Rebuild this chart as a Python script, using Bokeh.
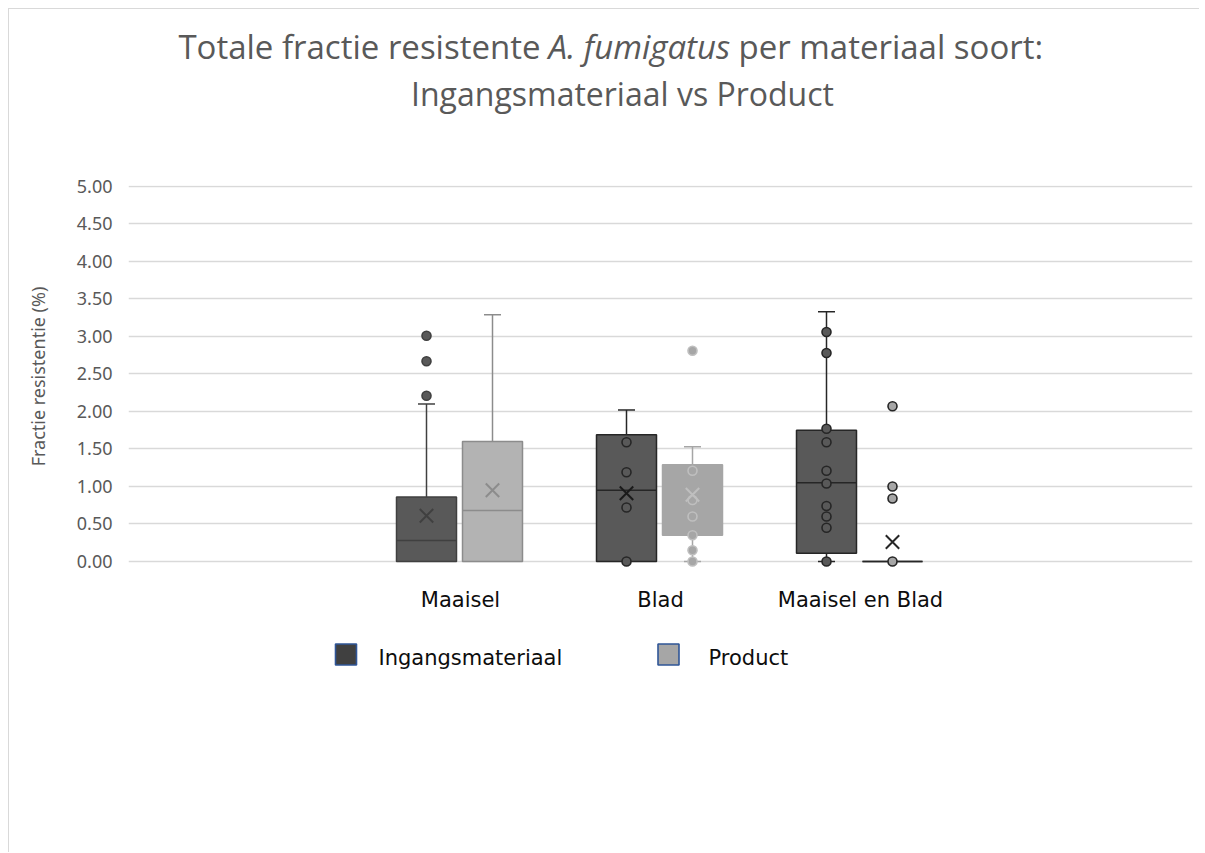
from bokeh.plotting import figure
from bokeh.layouts import column
from bokeh.models import Range1d, FixedTicker, NumeralTickFormatter, ColumnDataSource
from bokeh.core.properties import value
from bokeh.embed import file_html
from bokeh.resources import INLINE

# ---------------- data ----------------
categories = ["Maaisel", "Blad", "Maaisel en Blad"]
series = ["Ingangsmateriaal", "Product"]

ing_q1 = [0.00, 0.00, 0.11]
ing_med = [0.28, 0.95, 1.05]
ing_q3 = [0.86, 1.69, 1.75]
ing_lo = [0.00, 0.00, 0.00]
ing_hi = [2.10, 2.02, 3.33]
ing_mean = [0.61, 0.91, float("nan")]
ing_points = [
    [2.21, 2.67, 3.01],
    [1.59, 1.19, 0.72, 0.00],
    [3.06, 2.78, 1.77, 1.59, 1.21, 1.04, 0.74, 0.60, 0.45, 0.00],
]

prod_q1 = [0.00, 0.35, 0.00]
prod_med = [0.68, 0.66, 0.00]
prod_q3 = [1.60, 1.29, 0.00]
prod_lo = [0.00, 0.00, 0.00]
prod_hi = [3.29, 1.53, 0.00]
prod_mean = [0.95, 0.89, 0.26]
prod_points = [
    [],
    [2.81, 1.21, 0.82, 0.60, 0.35, 0.15, 0.00],
    [2.07, 1.00, 0.84, 0.00],
]

y_ticks = [0, 0.5, 1.0, 1.5, 2.0, 2.5, 3.0, 3.5, 4.0, 4.5, 5.0]

title_parts = ["Totale fractie resistente", "A. fumigatus", "per materiaal soort:"]
title_line2 = "Ingangsmateriaal vs Product"

# ---------------- styles ----------------
ing_style = [
    dict(fill="#595959", line="#404040", mean="#404040", pf="#595959", pl="#404040"),
    dict(fill="#595959", line="#262626", mean="#1a1a1a", pf="#595959", pl="#262626"),
    dict(fill="#595959", line="#262626", mean="#262626", pf="#595959", pl="#262626"),
]
prod_style = [
    dict(fill="#b3b3b3", line="#8c8c8c", mean="#8c8c8c", pf="#b3b3b3", pl="#8c8c8c"),
    dict(fill="#a6a6a6", line="#a6a6a6", mean="#bfbfbf", pf="#a6a6a6", pl="#bfbfbf"),
    dict(fill="#a6a6a6", line="#262626", mean="#262626", pf="#a6a6a6", pl="#262626"),
]
offsets = [-0.17, 0.16]
box_w = 0.30
cap_w = 0.085

OX, OY = 9, 9          # page offset of the content (margin + border)
W = 1190
BL, BR = 119, 7        # horizontal borders -> frame spans page x 128..1192
FX0, FX1 = OX + BL, OX + W - BR
TITLE_H = 150
MAIN_TOP = 26
FRAME_H = 382
MAIN_BOTTOM = 60
MAIN_H = MAIN_TOP + FRAME_H + MAIN_BOTTOM
LEG_H = 225
LEG_Y0 = OY + TITLE_H + MAIN_H

TEXT_GRAY = "#595959"


def aux_figure(h, y0):
    f = figure(width=W, height=h, x_range=Range1d(FX0, FX1), y_range=Range1d(y0 + h, y0),
               output_backend="svg", toolbar_location=None, x_axis_location=None,
               y_axis_location=None, min_border_left=BL, min_border_right=BR,
               min_border_top=0, min_border_bottom=0)
    f.outline_line_color = None
    f.grid.visible = False
    return f


# ---------------- title figure ----------------
t = aux_figure(TITLE_H, OY)
tf = value("Open Sans")
ts1 = value("33px")
ts2 = value("32px")
t.text(x=[540], y=[45.5], text=[title_parts[0]], text_align="right", text_baseline="middle",
       text_font=tf, text_font_size=ts1, text_color=TEXT_GRAY)
t.text(x=[548], y=[45.5], text=[title_parts[1]], text_align="left", text_baseline="middle",
       text_font=tf, text_font_size=ts1, text_font_style="italic", text_color=TEXT_GRAY)
t.text(x=[738], y=[45.5], text=[title_parts[2]], text_align="left", text_baseline="middle",
       text_font=tf, text_font_size=ts1, text_color=TEXT_GRAY)
t.text(x=[622], y=[92.5], text=[title_line2], text_align="center", text_baseline="middle",
       text_font=tf, text_font_size=ts2, text_color=TEXT_GRAY)

# ---------------- main figure ----------------
p = figure(width=W, height=MAIN_H, x_range=Range1d(-0.66, 4.66), y_range=Range1d(-0.08, 5.013),
           output_backend="svg", toolbar_location=None,
           min_border_left=BL, min_border_right=BR, min_border_top=MAIN_TOP,
           min_border_bottom=MAIN_BOTTOM)
p.outline_line_color = None

p.yaxis.ticker = FixedTicker(ticks=y_ticks)
p.yaxis.formatter = NumeralTickFormatter(format="0.00")
p.yaxis.axis_line_color = None
p.yaxis.major_tick_line_color = None
p.yaxis.minor_tick_line_color = None
p.yaxis.major_tick_out = 0
p.yaxis.major_tick_in = 0
p.yaxis.major_label_standoff = 16
p.yaxis.major_label_text_font = "Noto Sans"
p.yaxis.major_label_text_font_size = "18px"
p.yaxis.major_label_text_color = TEXT_GRAY
p.yaxis.axis_label = "Fractie resistentie (%)"
p.yaxis.axis_label_text_font = "Noto Sans"
p.yaxis.axis_label_text_font_size = "18px"
p.yaxis.axis_label_text_font_style = "normal"
p.yaxis.axis_label_text_color = TEXT_GRAY
p.yaxis.axis_label_standoff = 24

p.xaxis.ticker = FixedTicker(ticks=[1, 2, 3])
p.xaxis.major_label_overrides = {i + 1: c for i, c in enumerate(categories)}
p.xaxis.axis_line_color = None
p.xaxis.major_tick_line_color = None
p.xaxis.minor_tick_line_color = None
p.xaxis.major_tick_out = 0
p.xaxis.major_tick_in = 0
p.xaxis.major_label_standoff = 20
p.xaxis.major_label_text_font = "DejaVu Sans"
p.xaxis.major_label_text_font_size = "21px"
p.xaxis.major_label_text_color = "#0d0d0d"

p.xgrid.grid_line_color = None
p.ygrid.ticker = FixedTicker(ticks=y_ticks)
p.ygrid.grid_line_color = "#d9d9d9"
p.ygrid.grid_line_width = 1.3

all_sets = [
    (ing_q1, ing_med, ing_q3, ing_lo, ing_hi, ing_mean, ing_points, ing_style, offsets[0]),
    (prod_q1, prod_med, prod_q3, prod_lo, prod_hi, prod_mean, prod_points, prod_style, offsets[1]),
]

for q1, med, q3, lo, hi, mean, pts, styles, off in all_sets:
    for i in range(len(categories)):
        st = styles[i]
        xc = i + 1 + off
        if hi[i] > q3[i]:
            p.segment(x0=[xc], y0=[q3[i]], x1=[xc], y1=[hi[i]], line_color=st["line"], line_width=1.5)
            p.segment(x0=[xc - cap_w / 2], y0=[hi[i]], x1=[xc + cap_w / 2], y1=[hi[i]],
                      line_color=st["line"], line_width=1.5)
        if lo[i] < q1[i]:
            p.segment(x0=[xc], y0=[lo[i]], x1=[xc], y1=[q1[i]], line_color=st["line"], line_width=1.5)
            p.segment(x0=[xc - cap_w / 2], y0=[lo[i]], x1=[xc + cap_w / 2], y1=[lo[i]],
                      line_color=st["line"], line_width=1.5)
        p.vbar(x=[xc], bottom=[q1[i]], top=[q3[i]], width=box_w, fill_color=st["fill"],
               line_color=st["line"], line_width=1.5)
        p.segment(x0=[xc - box_w / 2], y0=[med[i]], x1=[xc + box_w / 2], y1=[med[i]],
                  line_color=st["line"], line_width=1.5)
    px, py, pf, pl = [], [], [], []
    for i in range(len(categories)):
        for v in pts[i]:
            px.append(i + 1 + off)
            py.append(v)
            pf.append(styles[i]["pf"])
            pl.append(styles[i]["pl"])
    src = ColumnDataSource(dict(x=px, y=py, f=pf, l=pl))
    p.scatter("x", "y", source=src, marker="circle", size=9, fill_color="f", line_color="l",
              line_width=1.6)
    mx, my, mc = [], [], []
    for i in range(len(categories)):
        if mean[i] == mean[i]:
            mx.append(i + 1 + off)
            my.append(mean[i])
            mc.append(styles[i]["mean"])
    msrc = ColumnDataSource(dict(x=mx, y=my, c=mc))
    p.scatter("x", "y", source=msrc, marker="x", size=19, line_color="c", line_width=2)

# ---------------- legend figure ----------------
lg = aux_figure(LEG_H, LEG_Y0)
leg_fill = ["#404040", "#a6a6a6"]
leg_sq_x = [345.5, 668]
leg_txt_x = [378, 708]
lg.scatter(x=leg_sq_x, y=[654, 654], marker="square", size=21, fill_color=leg_fill,
           line_color="#2f5597", line_width=1.6)
lg.text(x=leg_txt_x, y=[657, 657], text=series, text_align="left", text_baseline="middle",
        text_font=value("DejaVu Sans"), text_font_size=value("21px"), text_color="#0d0d0d")

layout = column(t, p, lg, spacing=0)
layout.styles = {"margin-left": "8px", "margin-top": "8px",
                 "border-left": "1px solid #d9d9d9", "border-top": "1px solid #d9d9d9"}

open("out.html", "w").write(file_html(layout, INLINE))
